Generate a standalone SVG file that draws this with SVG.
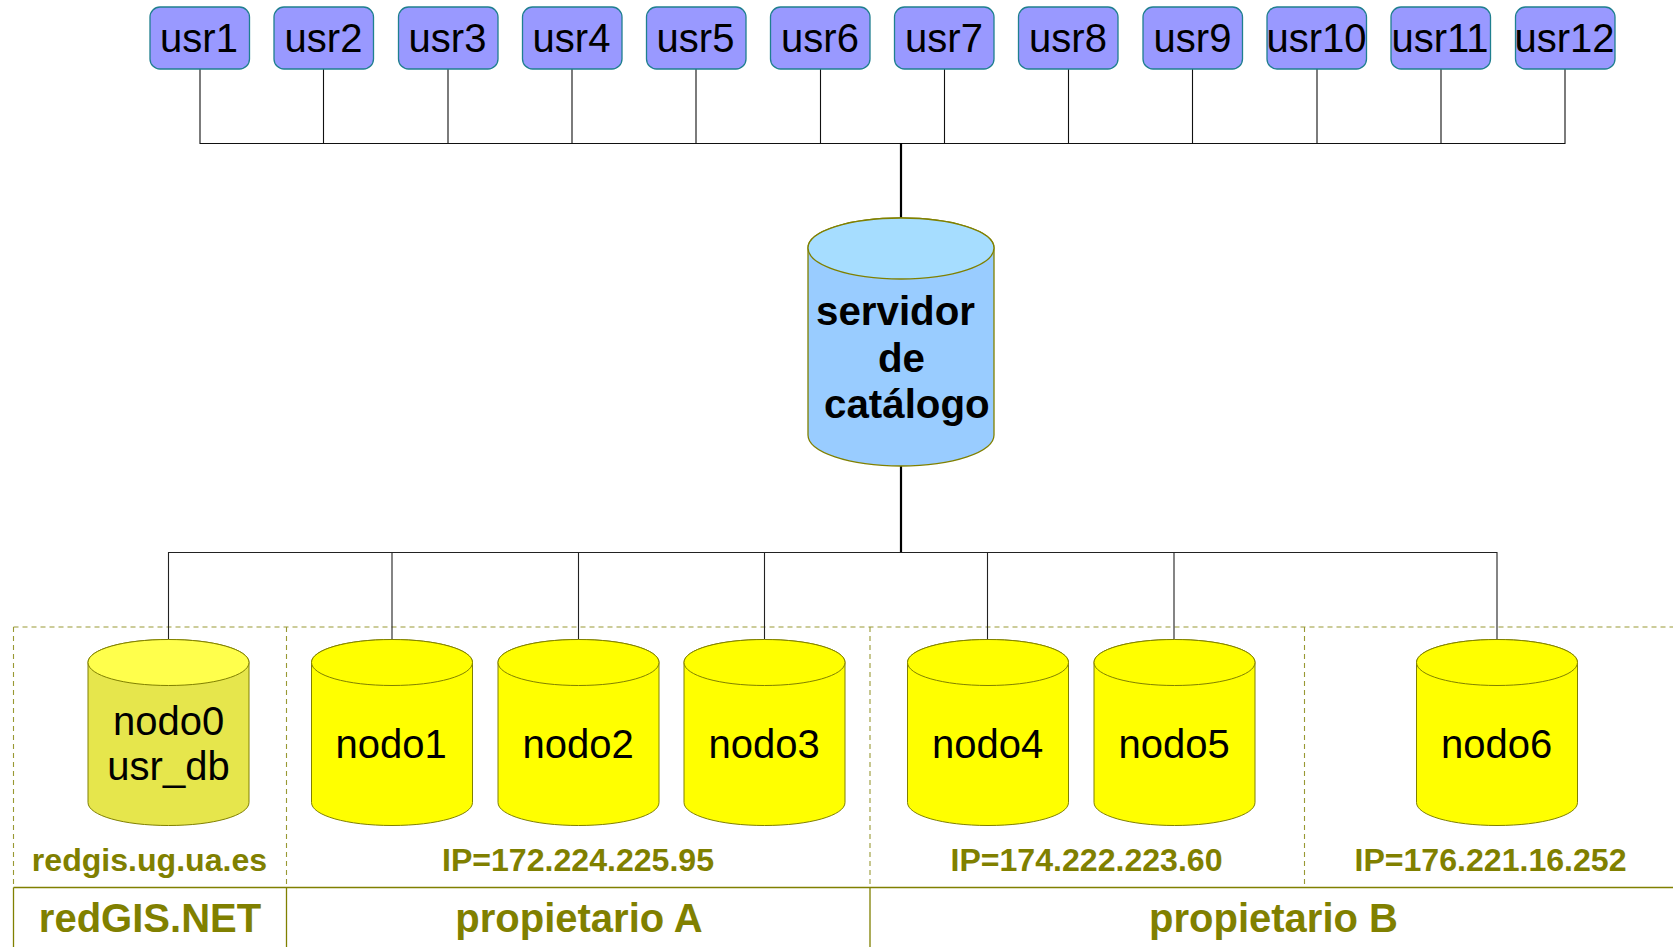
<svg xmlns="http://www.w3.org/2000/svg" width="1673" height="947" viewBox="0 0 1673 947">
<style>
text{font-family:"Liberation Sans",Arial,sans-serif;text-anchor:middle}
.u rect{fill:#9999ff;stroke:#1f7f8f;stroke-width:1.3}
.u text{font-size:40px;fill:#000}
.n{font-size:40px;fill:#000}
.s{font-size:40.300px;font-weight:bold;fill:#000;text-anchor:start}
.l{font-size:32.100px;font-weight:bold;fill:#808000}
.b{font-size:40px;font-weight:bold;fill:#808000}
.c{fill:none;stroke:#111;stroke-width:1.100}
.c3{fill:none;stroke:#222;stroke-width:1.100}
.c2{fill:none;stroke:#000;stroke-width:2.200}
.d{fill:none;stroke:#808000;stroke-width:1.100;stroke-dasharray:5 4;opacity:.8}
.f{fill:none;stroke:#808000;stroke-width:1.300}
</style>
<defs>
<path id="cyl" d="M-80.500 23V163C-80.500 176 -45 186 0 186S80.500 176 80.500 163V23C80.500 10 45 0 0 0S-80.500 10 -80.500 23Z"/>
<path id="cap" d="M-80.500 23C-80.500 36 -45 46 0 46S80.500 36 80.500 23C80.500 10 45 0 0 0S-80.500 10 -80.500 23Z"/>
</defs>
<g id="frame">
<path class="d" d="M13.500 627H1673M13.500 627V887M286.500 627V887M870 627V887M1304.500 627V887"/>
<path class="f" d="M13.500 887.500H1673M13.500 887.500V947M286.500 887.500V947M870 887.500V947"/>
</g>
<g id="connectors">
<path class="c" d="M200 69V143.500H1565V69M323.500 69V143M448 69V143M572 69V143M696 69V143M820.500 69V143M944.500 69V143M1068.500 69V143M1192.500 69V143M1317 69V143M1441 69V143"/>
<path class="c2" d="M901 143V218M901 466V553"/>
<path class="c3" d="M168.500 639V552.500H1497V639M392 553V639M578.500 553V639M764.500 553V639M987.500 553V639M1174 553V639"/>
</g>
<g id="usr1" class="u"><rect x="150" y="7" width="99.500" height="62" rx="10"/><text x="199" y="52">usr1</text></g>
<g id="usr2" class="u"><rect x="274" y="7" width="99.500" height="62" rx="10"/><text x="323.500" y="52">usr2</text></g>
<g id="usr3" class="u"><rect x="398.500" y="7" width="99.500" height="62" rx="10"/><text x="447.500" y="52">usr3</text></g>
<g id="usr4" class="u"><rect x="522.500" y="7" width="99.500" height="62" rx="10"/><text x="571.500" y="52">usr4</text></g>
<g id="usr5" class="u"><rect x="646.500" y="7" width="99.500" height="62" rx="10"/><text x="695.500" y="52">usr5</text></g>
<g id="usr6" class="u"><rect x="770.500" y="7" width="99.500" height="62" rx="10"/><text x="820" y="52">usr6</text></g>
<g id="usr7" class="u"><rect x="894.500" y="7" width="99.500" height="62" rx="10"/><text x="944" y="52">usr7</text></g>
<g id="usr8" class="u"><rect x="1018.500" y="7" width="99.500" height="62" rx="10"/><text x="1068" y="52">usr8</text></g>
<g id="usr9" class="u"><rect x="1143" y="7" width="99.500" height="62" rx="10"/><text x="1192.500" y="52">usr9</text></g>
<g id="usr10" class="u"><rect x="1267" y="7" width="99.500" height="62" rx="10"/><text x="1316.500" y="52">usr10</text></g>
<g id="usr11" class="u"><rect x="1391" y="7" width="99.500" height="62" rx="10"/><text x="1440" y="52">usr11</text></g>
<g id="usr12" class="u"><rect x="1515.500" y="7" width="99.500" height="62" rx="10"/><text x="1564.500" y="52">usr12</text></g>
<g id="servidor">
<path d="M808 248V435C808 452 849 466 901 466S994 452 994 435V248C994 231 952 218 901 218S808 231 808 248Z" fill="#99ccff" stroke="#808000" stroke-width="1.300"/>
<path d="M808 248C808 265 849 279 901 279S994 265 994 248C994 231 952 218 901 218S808 231 808 248Z" fill="#a6ddff" stroke="#808000" stroke-width="1.300"/>
<text class="s" x="816" y="325">servidor</text>
<text class="s" x="878" y="371.500">de</text>
<text class="s" x="824" y="418">catálogo</text>
</g>
<g id="nodo0" transform="translate(168.500 639.500)">
<use href="#cyl" fill="#e6e64c" stroke="#808000"/><use href="#cap" fill="#ffff4c" stroke="#808000"/>
<text class="n" x="0" y="95">nodo0</text><text class="n" x="0" y="140">usr_db</text></g>
<g id="nodo1" transform="translate(392 639.500)"><use href="#cyl" fill="#ff0" stroke="#808000"/><use href="#cap" fill="#ff0" stroke="#808000"/><text class="n" x="-1" y="118">nodo1</text></g>
<g id="nodo2" transform="translate(578.500 639.500)"><use href="#cyl" fill="#ff0" stroke="#808000"/><use href="#cap" fill="#ff0" stroke="#808000"/><text class="n" x="-0.500" y="118">nodo2</text></g>
<g id="nodo3" transform="translate(764.500 639.500)"><use href="#cyl" fill="#ff0" stroke="#808000"/><use href="#cap" fill="#ff0" stroke="#808000"/><text class="n" x="-0.500" y="118">nodo3</text></g>
<g id="nodo4" transform="translate(988 639.500)"><use href="#cyl" fill="#ff0" stroke="#808000"/><use href="#cap" fill="#ff0" stroke="#808000"/><text class="n" x="-0.500" y="118">nodo4</text></g>
<g id="nodo5" transform="translate(1174.500 639.500)"><use href="#cyl" fill="#ff0" stroke="#808000"/><use href="#cap" fill="#ff0" stroke="#808000"/><text class="n" x="-0.500" y="118">nodo5</text></g>
<g id="nodo6" transform="translate(1497 639.500)"><use href="#cyl" fill="#ff0" stroke="#808000"/><use href="#cap" fill="#ff0" stroke="#808000"/><text class="n" x="-0.500" y="118">nodo6</text></g>
<g id="labels">
<text class="l" x="149.500" y="871">redgis.ug.ua.es</text>
<text class="l" x="578" y="871">IP=172.224.225.95</text>
<text class="l" x="1086.500" y="871">IP=174.222.223.60</text>
<text class="l" x="1490.500" y="871">IP=176.221.16.252</text>
<text class="b" x="150" y="932">redGIS.NET</text>
<text class="b" x="579" y="932">propietario A</text>
<text class="b" x="1273.500" y="932">propietario B</text>
</g>
</svg>
